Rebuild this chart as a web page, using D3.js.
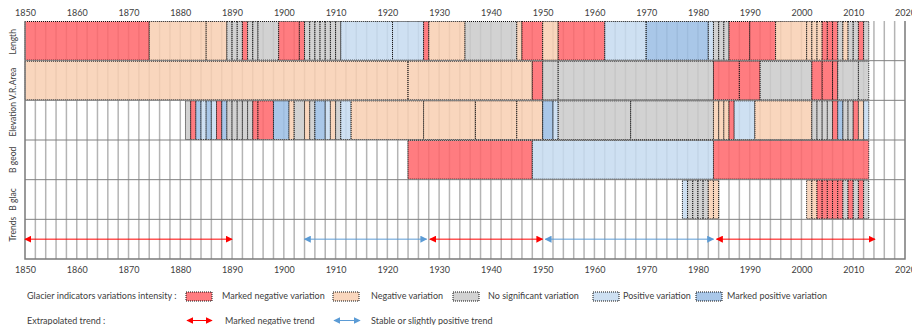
<!DOCTYPE html>
<html>
<head>
<meta charset="utf-8">
<script src="https://cdn.jsdelivr.net/npm/d3@7"></script>
<style>
  body { margin: 0; background: #fff; }
  text { font-family: Lato, "Open Sans", sans-serif; fill: #404040; }
</style>
</head>
<body>
<div id="chart"></div>
<script>
// rows of the chart
const rows = ["Length", "Area", "Elevation V.R.", "B geod", "B glac", "Trends"];

// intensity classes (0..4)
const intensityLabels = ["Marked negative variation", "Negative variation", "No significant variation",
  "Positive variation", "Marked positive variation"];
const intensityColors = ["#FF656A", "#F8CFB2", "#CACACA", "#C5DAF0", "#9ABDE4"];

// [start year, end year, intensity class]
const lengthSegs = [
  [1850,1874,0],[1874,1885,1],[1885,1889,1],[1889,1890,2],[1890,1891,2],[1891,1892,2],
  [1892,1893,0],[1893,1894,2],[1894,1895,2],[1895,1899,2],[1899,1903,0],[1903,1904,0],
  [1904,1905,2],[1905,1906,2],[1906,1907,2],[1907,1908,2],[1908,1909,2],[1909,1910,2],[1910,1911,2],
  [1911,1921,3],[1921,1927,3],[1927,1928,0],[1928,1935,1],[1935,1945,2],[1945,1946,1],
  [1946,1950,0],[1950,1953,1],[1953,1962,0],[1962,1970,3],[1970,1982,4],[1982,1983,3],
  [1983,1984,2],[1984,1985,2],[1985,1986,2],[1986,1990,0],[1990,1995,0],[1995,2001,1],
  [2001,2002,1],[2002,2003,1],[2003,2004,1],[2004,2005,0],[2005,2006,0],[2006,2007,0],
  [2007,2008,2],[2008,2009,1],[2009,2010,2],[2010,2011,2],[2011,2012,0],[2012,2013,2]
];
const areaSegs = [
  [1850,1924,1],[1924,1948,1],[1948,1950,0],[1950,1953,2],[1953,1983,2],[1983,1988,0],
  [1988,1992,0],[1992,2002,2],[2002,2004,0],[2004,2006,0],[2006,2007,0],[2007,2011,2],[2011,2013,2]
];
const elevationSegs = [
  [1881,1882,2],[1882,1883,0],[1883,1884,4],[1884,1885,3],[1885,1886,4],[1886,1887,3],
  [1887,1888,0],[1888,1889,4],[1889,1890,2],[1890,1891,2],[1891,1892,2],[1892,1893,2],
  [1893,1894,2],[1894,1895,0],[1895,1898,0],[1898,1901,4],[1901,1902,1],[1902,1904,2],
  [1904,1905,1],[1905,1906,2],[1906,1908,4],[1908,1909,3],[1909,1910,1],[1910,1911,2],
  [1911,1913,3],[1913,1927,1],[1927,1937,1],[1937,1945,1],[1945,1950,1],[1950,1952,4],
  [1952,1953,3],[1953,1967,2],[1967,1983,2],[1983,1984,1],[1984,1985,1],[1985,1986,1],
  [1986,1987,0],[1987,1991,3],[1991,2002,1],[2002,2003,2],[2003,2004,2],[2004,2005,2],
  [2005,2006,2],[2006,2007,0],[2007,2008,4],[2008,2009,2],[2009,2010,2],[2010,2011,0],
  [2011,2012,1],[2012,2013,3]
];
const bgeodSegs = [[1924,1948,0],[1948,1983,3],[1983,2013,0]];
const bglacSegs = [
  [1977,1978,3],[1978,1979,2],[1979,1980,2],[1980,1981,2],[1981,1982,2],[1982,1983,1],
  [1983,1984,1],[2001,2002,1],[2002,2003,1],[2003,2004,0],[2004,2005,0],[2005,2006,0],
  [2006,2007,0],[2007,2008,0],[2008,2009,2],[2009,2010,0],[2010,2011,2],[2011,2012,0],[2012,2013,2]
];

// extrapolated trends: [start, end, type] 0 = marked negative, 1 = stable / slightly positive
const trendLabels = ["Marked negative trend", "Stable or slightly positive trend"];
const trendColors = ["#FF0000", "#5B9BD5"];
const trendSegs = [[1850,1890,0],[1904,1927.6,1],[1928.2,1950,0],[1950.5,1983,1],[1983.6,2014.2,0]];

const yearTicks = d3.range(1850, 2021, 10);

const width = 912, height = 325;

const svg = d3.select("#chart").append("svg")
  .attr("width", width)
  .attr("height", height);

const x = d3.scaleLinear().domain([1850, 2020]).range([25, 905]);
const y = d3.scaleBand().domain(rows).range([21, 259]);

// arrow markers
const defs = svg.append("defs");
trendColors.forEach(function(c, i) {
  defs.append("marker")
    .attr("id", "arrEnd" + i)
    .attr("viewBox", "0 0 10 10")
    .attr("refX", 9).attr("refY", 5)
    .attr("markerWidth", 7).attr("markerHeight", 7)
    .attr("markerUnits", "userSpaceOnUse")
    .attr("orient", "auto")
    .append("path").attr("d", "M0,0L10,5L0,10z").attr("fill", c);
  defs.append("marker")
    .attr("id", "arrStart" + i)
    .attr("viewBox", "0 0 10 10")
    .attr("refX", 1).attr("refY", 5)
    .attr("markerWidth", 7).attr("markerHeight", 7)
    .attr("markerUnits", "userSpaceOnUse")
    .attr("orient", "auto")
    .append("path").attr("d", "M10,0L0,5L10,10z").attr("fill", c);
});

// vertical gridlines every 2 years
svg.append("g")
  .selectAll("line")
  .data(d3.range(1852, 2020, 2))
  .join("line")
    .attr("x1", d => x(d)).attr("x2", d => x(d))
    .attr("y1", 21).attr("y2", 259)
    .attr("stroke", "#b4b4b4")
    .attr("stroke-width", 1.5);

// indicator bars
const segRows = [lengthSegs, areaSegs, elevationSegs, bgeodSegs, bglacSegs];
segRows.forEach(function(segs, i) {
  svg.append("g")
    .selectAll("rect")
    .data(segs)
    .join("rect")
      .attr("x", d => x(d[0]))
      .attr("y", y(rows[i]) + 0.5)
      .attr("width", d => x(d[1]) - x(d[0]))
      .attr("height", y.bandwidth() - 1)
      .attr("fill", d => intensityColors[d[2]])
      .attr("fill-opacity", 0.85)
      .attr("stroke", "#111")
      .attr("stroke-width", 1)
      .attr("stroke-dasharray", "1,1");
});

// horizontal row separators
svg.append("g")
  .selectAll("line")
  .data(rows.slice(1))
  .join("line")
    .attr("x1", 25).attr("x2", 905)
    .attr("y1", d => y(d)).attr("y2", d => y(d))
    .attr("stroke", "#808080")
    .attr("stroke-width", 1);

// frame: left, bottom, right
svg.append("path")
  .attr("d", `M25,21V259H905V21`)
  .attr("fill", "none")
  .attr("stroke", "#7a7a7a")
  .attr("stroke-width", 1.5);

// trend arrows
const ty = y("Trends") + y.bandwidth() / 2;
svg.append("g")
  .selectAll("line")
  .data(trendSegs)
  .join("line")
    .attr("x1", d => x(d[0])).attr("x2", d => x(d[1]))
    .attr("y1", ty).attr("y2", ty)
    .attr("stroke", d => trendColors[d[2]])
    .attr("stroke-width", 1)
    .attr("marker-start", d => `url(#arrStart${d[2]})`)
    .attr("marker-end", d => `url(#arrEnd${d[2]})`);

// axes top and bottom
const topAxis = svg.append("g")
  .attr("transform", "translate(0,19)")
  .call(d3.axisTop(x).tickValues(yearTicks).tickSize(0).tickFormat(d3.format("d")));
const botAxis = svg.append("g")
  .attr("transform", "translate(0,264)")
  .call(d3.axisBottom(x).tickValues(yearTicks).tickSize(0).tickFormat(d3.format("d")));
[topAxis, botAxis].forEach(function(a) {
  a.select(".domain").remove();
  a.selectAll("text")
    .style("font-family", "Lato, 'Open Sans', sans-serif")
    .style("font-size", "9px")
    .attr("fill", "#595959");
});

// row labels (Excel placed them a little off the band centres)
const labelShift = [1, -4, -9, 0, 0, -10];
svg.append("g")
  .selectAll("text")
  .data(rows)
  .join("text")
    .attr("transform", (d, i) => `translate(16,${y(d) + y.bandwidth() / 2 + labelShift[i]}) rotate(-90)`)
    .attr("text-anchor", "middle")
    .style("font-size", "8.5px")
    .attr("fill", "#404040")
    .text(d => d);

// legend
const leg = svg.append("g").style("font-size", "9px");
leg.append("text").attr("x", 27).attr("y", 299).text("Glacier indicators variations intensity :");
leg.append("text").attr("x", 27).attr("y", 324).text("Extrapolated trend :");

const boxX = [186, 333, 453, 593, 696];
const textX = [222, 371, 488, 623, 727];
intensityLabels.forEach(function(l, i) {
  leg.append("rect")
    .attr("x", boxX[i]).attr("y", 292)
    .attr("width", 26).attr("height", 9)
    .attr("fill", intensityColors[i])
    .attr("fill-opacity", 0.85)
    .attr("stroke", "#111")
    .attr("stroke-dasharray", "1,1");
  leg.append("text").attr("x", textX[i]).attr("y", 299).text(l);
});

const arrX = [[187, 212], [334, 360]];
const arrTextX = [225, 371];
trendLabels.forEach(function(l, i) {
  leg.append("line")
    .attr("x1", arrX[i][0]).attr("x2", arrX[i][1])
    .attr("y1", 320.5).attr("y2", 320.5)
    .attr("stroke", trendColors[i])
    .attr("marker-start", `url(#arrStart${i})`)
    .attr("marker-end", `url(#arrEnd${i})`);
  leg.append("text").attr("x", arrTextX[i]).attr("y", 324).text(l);
});
</script>
</body>
</html>
